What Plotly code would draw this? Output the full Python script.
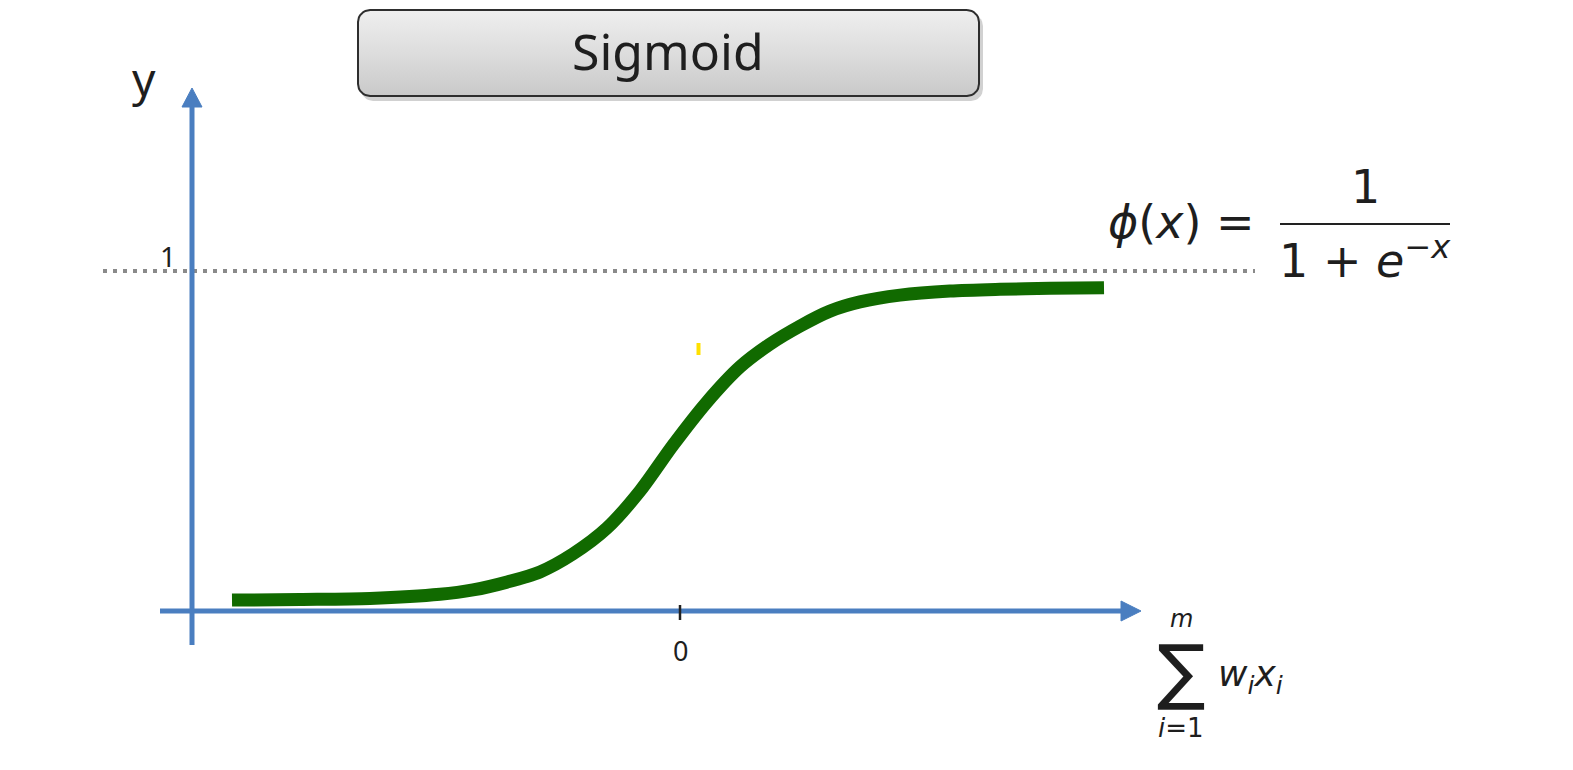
import math
import plotly.graph_objects as go

# ---- data (sigmoid curve) ----
curve_x = [-4.48, -3.80, -3.10, -2.40, -2.07, -1.73, -1.40, -1.07, -0.73, -0.40,
           -0.07, 0.27, 0.60, 0.90, 1.20, 1.50, 1.80, 2.20, 2.70, 3.20, 3.70, 4.24]
curve_y = [0.032, 0.034, 0.037, 0.049, 0.062, 0.085, 0.115, 0.168, 0.244, 0.353,
           0.488, 0.615, 0.718, 0.785, 0.838, 0.882, 0.909, 0.929, 0.941, 0.946, 0.949, 0.951]
x_tick_vals = [0]
x_tick_text = ["0"]
y_level_vals = [1]
y_level_text = ["1"]
title_text = "Sigmoid"

W, H = 1573, 770
X0PX, Y0PX, XS, YS = 680, 611, 100.0, 340.0


def X(px):
    return (px - X0PX) / XS


def Y(py):
    return (Y0PX - py) / YS


def DY(d):
    return d / YS


BLUE = "#4a7ec0"
GREEN = "#116a00"

fig = go.Figure()


def rounded(x0, y0, x1, y1, r, n=8):
    pts = []
    corners = [(x1 - r, y0 + r, -90, 0), (x1 - r, y1 - r, 0, 90),
               (x0 + r, y1 - r, 90, 180), (x0 + r, y0 + r, 180, 270)]
    for cx, cy, a0, a1 in corners:
        for k in range(n + 1):
            a = math.radians(a0 + (a1 - a0) * k / n)
            pts.append((cx + r * math.cos(a), cy + r * math.sin(a)))
    pts.append(pts[0])
    return [X(p[0]) for p in pts], [Y(p[1]) for p in pts]


# title box shadow + box
sx, sy = rounded(361, 14, 983, 101, 12)
fig.add_trace(go.Scatter(x=sx, y=sy, mode="lines", fill="toself",
                         fillcolor="rgba(0,0,0,0.18)", line=dict(width=0),
                         hoverinfo="skip", showlegend=False))
bx, by = rounded(358, 10, 979, 96, 12)
fig.add_trace(go.Scatter(x=bx, y=by, mode="lines", fill="toself",
                         fillgradient=dict(type="vertical",
                                           colorscale=[[0, "#c9c9c9"], [0.5, "#dddddd"], [1, "#efefef"]]),
                         line=dict(color="#2e2e2e", width=2),
                         hoverinfo="skip", showlegend=False))

# dotted level line at y = 1
fig.add_trace(go.Scatter(x=[X(103), X(1255)], y=[y_level_vals[0]] * 2, mode="lines",
                         line=dict(color="#8a8a8a", width=4, dash="4px,6px"),
                         hoverinfo="skip", showlegend=False))

# sigmoid curve
fig.add_trace(go.Scatter(x=curve_x, y=curve_y, mode="lines", line_shape="spline",
                         line=dict(color=GREEN, width=13, smoothing=0.8),
                         hoverinfo="skip", showlegend=False))

shapes = []
# axes
shapes.append(dict(type="line", x0=X(192), x1=X(192), y0=Y(645), y1=Y(104),
                   line=dict(color=BLUE, width=5)))
shapes.append(dict(type="line", x0=X(160), x1=X(1124), y0=0, y1=0,
                   line=dict(color=BLUE, width=5)))
# arrow heads
shapes.append(dict(type="path",
                   path=f"M {X(192)} {Y(88)} L {X(182)} {Y(107)} L {X(202)} {Y(107)} Z",
                   fillcolor=BLUE, line=dict(color=BLUE, width=1)))
shapes.append(dict(type="path",
                   path=f"M {X(1141)} {Y(611)} L {X(1121)} {Y(601)} L {X(1121)} {Y(621)} Z",
                   fillcolor=BLUE, line=dict(color=BLUE, width=1)))
# tick at x = 0
for v in x_tick_vals:
    shapes.append(dict(type="line", x0=v, x1=v, y0=Y(605), y1=Y(620),
                       line=dict(color="#222222", width=2.5)))
# fraction bar
shapes.append(dict(type="line", x0=X(1280), x1=X(1450), y0=Y(224), y1=Y(224),
                   line=dict(color="#222222", width=2)))
# small yellow mark
shapes.append(dict(type="rect", x0=X(696.5), x1=X(700.5), y0=Y(355), y1=Y(343),
                   fillcolor="#ffe000", line=dict(width=0)))

TXT = "#1e1e1e"
ann = []
ann.append(dict(x=X(668), y=Y(51), text=title_text, showarrow=False,
                font=dict(family="Noto Sans", size=50, color=TXT)))
ann.append(dict(x=X(144), y=Y(78), text="y", showarrow=False,
                font=dict(family="Noto Sans", size=46, color=TXT)))
for v, t in zip(x_tick_vals, x_tick_text):
    ann.append(dict(x=v, y=Y(650), text=t, showarrow=False,
                    font=dict(family="Noto Sans", size=27, color=TXT)))
for v, t in zip(y_level_vals, y_level_text):
    ann.append(dict(x=X(168), y=v + DY(15), text=t, showarrow=False,
                    font=dict(family="Noto Sans", size=28, color=TXT)))
# formula
FF = "DejaVu Sans"
ann.append(dict(x=X(1181), y=Y(222), text="<i>ϕ</i>(<i>x</i>) =", showarrow=False,
                font=dict(family=FF, size=46, color=TXT)))
ann.append(dict(x=X(1365), y=Y(187), text="1", showarrow=False,
                font=dict(family=FF, size=46, color=TXT)))
ann.append(dict(x=X(1365), y=Y(258), text="1 + <i>e</i><sup>−<i>x</i></sup>", showarrow=False,
                font=dict(family=FF, size=46, color=TXT)))
# sum label
ann.append(dict(x=X(1181), y=Y(671), text="∑", showarrow=False,
                font=dict(family=FF, size=72, color=TXT)))
ann.append(dict(x=X(1181), y=Y(619), text="<i>m</i>", showarrow=False,
                font=dict(family=FF, size=24, color=TXT)))
ann.append(dict(x=X(1181), y=Y(728), text="<i>i</i>=1", showarrow=False,
                font=dict(family=FF, size=26, color=TXT)))
ann.append(dict(x=X(1250), y=Y(676), text="<i>w<sub>i</sub>x<sub>i</sub></i>", showarrow=False,
                font=dict(family=FF, size=36, color=TXT)))

fig.update_layout(
    width=W, height=H,
    margin=dict(l=0, r=0, t=0, b=0),
    paper_bgcolor="white", plot_bgcolor="white",
    xaxis=dict(range=[X(0), X(W)], visible=False, fixedrange=True),
    yaxis=dict(range=[Y(H), Y(0)], visible=False, fixedrange=True),
    shapes=shapes, annotations=ann, showlegend=False,
)

fig.write_html("out.html", config={"displayModeBar": False},
               post_script="document.body.style.margin='0';document.body.style.overflow='hidden';")
